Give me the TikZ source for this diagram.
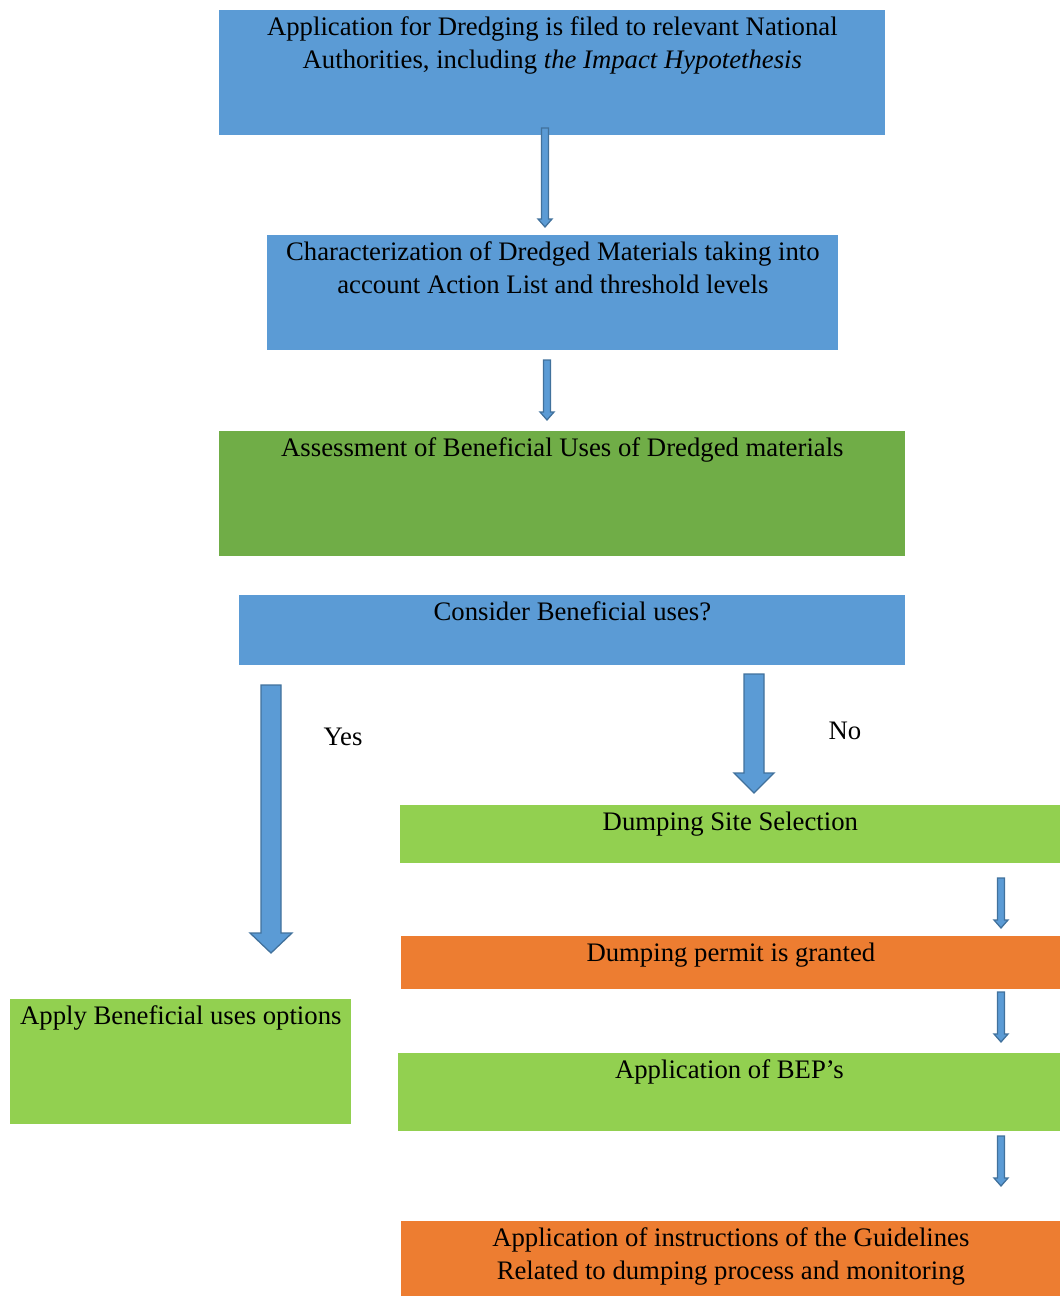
\documentclass[tikz,border=0pt]{standalone}
\usepackage{fontspec}
\setmainfont{Liberation Serif}
\usetikzlibrary{positioning, calc}

\definecolor{boxblue}{HTML}{5B9BD5}
\definecolor{boxgreen}{HTML}{70AD47}
\definecolor{lightgreen}{HTML}{92D050}
\definecolor{boxorange}{HTML}{ED7D31}
\definecolor{arrowedge}{HTML}{41719C}

% down block arrow: from, to, half shaft, half head, head length
\newcommand{\blockarrow}[5]{%
	\draw[flowarrow] ($(#1)+(-#3,0)$) -- ($(#2)+(-#3,-#5)$) -- ($(#2)+(-#4,-#5)$) -- (#2)
		-- ($(#2)+(#4,-#5)$) -- ($(#2)+(#3,-#5)$) -- ($(#1)+(#3,0)$) -- cycle;}

\begin{document}
\begin{tikzpicture}[x=0.025cm, y=-0.025cm, node distance=0.16cm]
	
	% Define styles
	\tikzstyle{box} = [rectangle, inner sep=0pt, anchor=north west]
	\tikzstyle{boxtext} = [inner sep=0pt, align=center, font=\fontsize{19}{23.2}\selectfont]
	\tikzstyle{flowarrow} = [fill=boxblue, draw=arrowedge, line width=0.9pt, line join=miter]
	
	\useasboundingbox (0,0) rectangle (1060,1296);
	
	% Boxes
	\node[box, fill=boxblue, minimum width=16.65cm, minimum height=3.125cm] (app) at (219,10) {};
	\node[box, fill=boxblue, minimum width=14.275cm, minimum height=2.875cm] (char) at (267,235) {};
	\node[box, fill=boxgreen, minimum width=17.15cm, minimum height=3.125cm] (assess) at (219,431) {};
	\node[box, fill=boxblue, minimum width=16.65cm, minimum height=1.75cm] (consider) at (239,595) {};
	\node[box, fill=lightgreen, minimum width=16.5cm, minimum height=1.45cm] (site) at (400,805) {};
	\node[box, fill=boxorange, minimum width=16.475cm, minimum height=1.325cm] (permit) at (401,936) {};
	\node[box, fill=lightgreen, minimum width=16.55cm, minimum height=1.95cm] (bep) at (398,1053) {};
	\node[box, fill=boxorange, minimum width=16.475cm, minimum height=1.875cm] (guide) at (401,1221) {};
	\node[box, fill=lightgreen, minimum width=8.525cm, minimum height=3.125cm] (apply) at (10,999) {};
	
	% Texts
	\node[boxtext, below=of app.north] (apptext) {Application for Dredging is filed to relevant National\\ Authorities, including \textit{the Impact Hypotethesis}};
	\node[boxtext, below=of char.north] (chartext) {Characterization of Dredged Materials taking into\\ account Action List and threshold levels};
	\node[boxtext, below=of assess.north] (assesstext) {Assessment of Beneficial Uses of Dredged materials};
	\node[boxtext, below=of consider.north] (considertext) {Consider Beneficial uses?};
	\node[boxtext, below=of site.north] (sitetext) {Dumping Site Selection};
	\node[boxtext, below=of permit.north] (permittext) {Dumping permit is granted};
	\node[boxtext, below=of bep.north] (beptext) {Application of BEP’s};
	\node[boxtext, below=of guide.north] (guidetext) {Application of instructions of the Guidelines\\ Related to dumping process and monitoring};
	\node[boxtext, below=of apply.north] (applytext) {Apply Beneficial uses options};
	
	% Arrow ends
	\coordinate (a1s) at (545,128);   \coordinate (a1e) at (545,227);
	\coordinate (a2s) at (547,360);   \coordinate (a2e) at (547,420);
	\coordinate (yess) at (271,685);  \coordinate (yese) at (271,953);
	\coordinate (nos) at (754,674);   \coordinate (noe) at (754,793);
	\coordinate (a3s) at (1001,878);  \coordinate (a3e) at (1001,928);
	\coordinate (a4s) at (1001,992);  \coordinate (a4e) at (1001,1042);
	\coordinate (a5s) at (1001,1136); \coordinate (a5e) at (1001,1186);
	
	% Arrows
	\blockarrow{a1s}{a1e}{3.5}{7}{8}
	\blockarrow{a2s}{a2e}{3.5}{7}{8}
	\blockarrow{yess}{yese}{10}{21}{20}
	\blockarrow{nos}{noe}{10}{20}{20}
	\blockarrow{a3s}{a3e}{3.5}{7}{8}
	\blockarrow{a4s}{a4e}{3.5}{7}{8}
	\blockarrow{a5s}{a5e}{3.5}{7}{8}
	
	% Labels
	\node[boxtext] (yes) at (343,737) {Yes};
	\node[boxtext] (no) at (845,731) {No};
	
\end{tikzpicture}
\end{document}
